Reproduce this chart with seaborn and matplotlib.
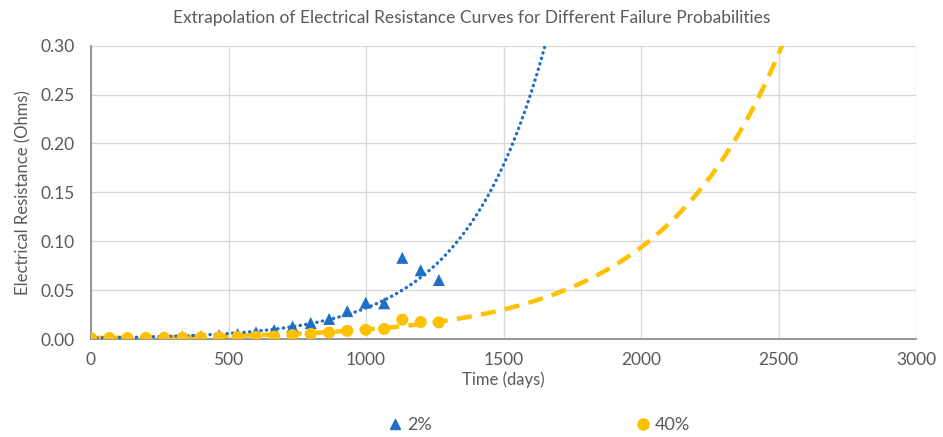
import numpy as np
import pandas as pd
import matplotlib
matplotlib.use("Agg")
import matplotlib.pyplot as plt
import seaborn as sns
from matplotlib.ticker import MultipleLocator, FormatStrFormatter
from matplotlib.lines import Line2D

# ---- data ----
days = [0, 67, 133, 200, 266, 333, 400, 466, 533, 600,
        666, 733, 799, 866, 932, 999, 1066, 1132, 1199, 1265]
res_2pct = [0.0005, 0.0008, 0.0010, 0.0013, 0.0017, 0.0022, 0.0028, 0.0038, 0.0050, 0.0068,
            0.0092, 0.0128, 0.0163, 0.0205, 0.0285, 0.0372, 0.0365, 0.0830, 0.0703, 0.0603]
res_40pct = [0.0010, 0.0010, 0.0010, 0.0011, 0.0012, 0.0013, 0.0015, 0.0017, 0.0019, 0.0021,
             0.0024, 0.0040, 0.0052, 0.0066, 0.0083, 0.0094, 0.0102, 0.0198, 0.0174, 0.0170]
series_labels = ["2%", "40%"]
# exponential trendline coefficients y = a * exp(k * x), as shown by the chart
trend_2pct = (0.0010, 0.003455)
trend_40pct = (0.0010, 0.00227)
x_ticks = [0, 500, 1000, 1500, 2000, 2500, 3000]
y_ticks = [0.00, 0.05, 0.10, 0.15, 0.20, 0.25, 0.30]

blue = "#1F6FC6"
gold = "#FFC000"
grey_txt = "#595959"

sns.set_theme(style="white")
plt.rcParams['font.family'] = ['Lato', 'DejaVu Sans']

fig = plt.figure(figsize=(9.43, 4.37), dpi=100)
ax = fig.add_axes([91/943, 1-339/437, (916-91)/943, (339-45.7)/437])

# trendlines (evaluated from coefficients over the chart's x range)
xt = np.linspace(0, 3000, 3001)
df_t = pd.DataFrame({
    "x": np.concatenate([xt, xt]),
    "y": np.concatenate([trend_2pct[0]*np.exp(trend_2pct[1]*xt),
                         trend_40pct[0]*np.exp(trend_40pct[1]*xt)]),
    "s": [series_labels[0]]*len(xt) + [series_labels[1]]*len(xt),
})
df_t = df_t[df_t.y <= 0.303]
sns.lineplot(data=df_t[df_t.s == "40%"], x="x", y="y", ax=ax, color=gold,
             linewidth=3.2, legend=False, zorder=3)
ax.lines[-1].set_dashes([3.4, 2.1])
ax.lines[-1].set_dash_capstyle("butt")
sns.lineplot(data=df_t[df_t.s == "2%"], x="x", y="y", ax=ax, color=blue,
             linewidth=2.4, legend=False, zorder=3)
ax.lines[-1].set_dashes([0.1, 1.6])
ax.lines[-1].set_dash_capstyle("round")

df = pd.DataFrame({"days": days, "r2": res_2pct, "r40": res_40pct})
sns.scatterplot(data=df, x="days", y="r2", ax=ax, marker="^", color=blue,
                s=75, edgecolor="none", zorder=4)
sns.scatterplot(data=df, x="days", y="r40", ax=ax, marker="o", color=gold,
                s=75, edgecolor="none", zorder=5)

ax.set_xlim(0, 3000)
ax.set_ylim(0, 0.30)
ax.set_xticks(x_ticks)
ax.set_yticks(y_ticks)
ax.yaxis.set_major_formatter(FormatStrFormatter("%.2f"))
ax.xaxis.set_minor_locator(MultipleLocator(250))
ax.grid(True, which="major", color="#D9D9D9", linewidth=1.0)
ax.set_axisbelow(True)
for s in ["top", "right"]:
    ax.spines[s].set_visible(False)
for s in ["left", "bottom"]:
    ax.spines[s].set_color("#8C8C8C")
    ax.spines[s].set_linewidth(1.3)
ax.tick_params(axis="x", which="both", direction="inout", length=9, width=1.1,
               color="#8C8C8C", labelsize=12.5, labelcolor=grey_txt, pad=5)
ax.tick_params(axis="y", length=0, labelsize=12.5, labelcolor=grey_txt, pad=12)
ax.set_xlabel("Time (days)", fontsize=12, color=grey_txt, labelpad=2)
ax.set_ylabel("Electrical Resistance (Ohms)", fontsize=12, color=grey_txt, labelpad=6)
fig.text(0.5, 1-18/437, "Extrapolation of Electrical Resistance Curves for Different Failure Probabilities",
         ha="center", va="center", fontsize=12.5, color=grey_txt)

handles = [Line2D([], [], linestyle="none", marker="^", color=blue, markersize=7.5),
           Line2D([], [], linestyle="none", marker="o", color=gold, markersize=8)]
fig.legend(handles, series_labels, loc="center", bbox_to_anchor=(537/943, 1-425/437),
           ncol=2, frameon=False, fontsize=13, labelcolor=grey_txt,
           columnspacing=11.1, handletextpad=0.05, handlelength=1.2)

fig.savefig("out.png", dpi=100)
